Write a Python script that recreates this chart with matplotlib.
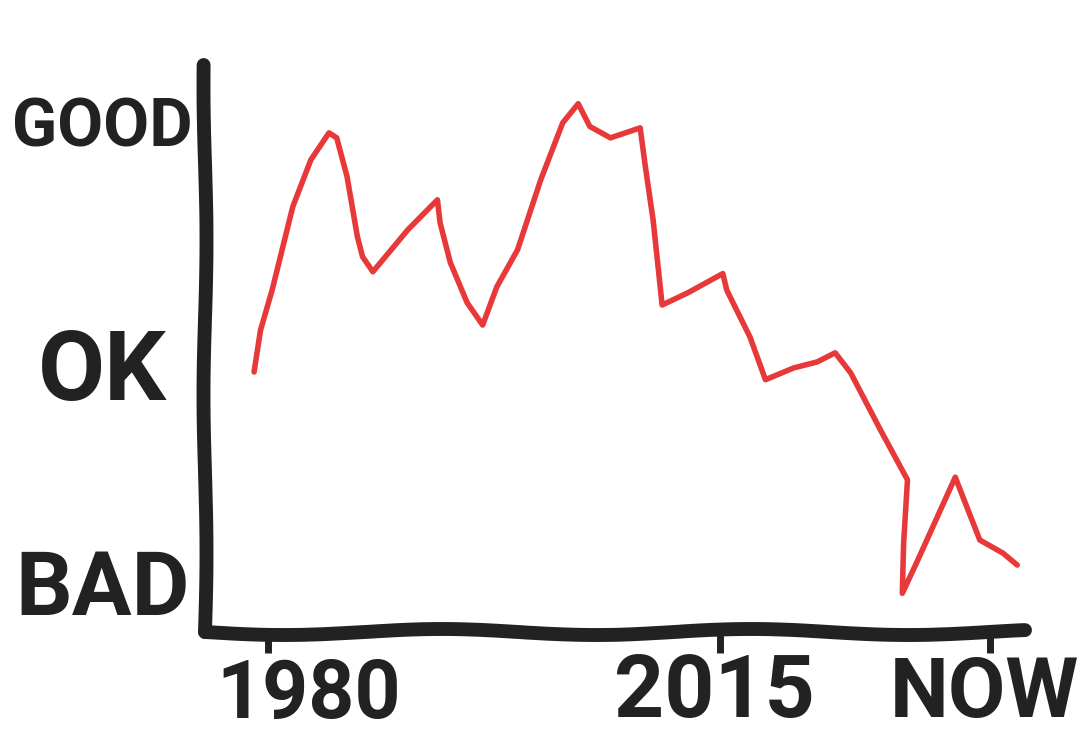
import matplotlib
matplotlib.use("Agg")
import matplotlib.pyplot as plt
import matplotlib.transforms as mtransforms

# ---- data ----
years = [1978.9, 1979.4, 1980.3, 1981.9, 1983.3, 1984.7, 1985.3, 1986.1, 1986.9,
         1987.3, 1988.1, 1990.8, 1993.1, 1993.3, 1994.1, 1995.4, 1996.6, 1997.7,
         1999.3, 2001.1, 2002.8, 2004.0, 2004.9, 2006.5, 2008.8, 2009.2, 2009.8,
         2010.5, 2012.5, 2015.2, 2015.5, 2017.3, 2018.5, 2020.7, 2022.5, 2023.9,
         2025.1, 2027.4, 2029.5, 2029.2, 2029.1, 2030.3, 2033.2, 2033.8, 2035.1,
         2036.9, 2038.0]
quality = [4.46, 5.38, 6.26, 8.09, 9.12, 9.71, 9.60, 8.75, 7.43,
           6.99, 6.66, 7.58, 8.24, 7.74, 6.86, 5.98, 5.49, 6.33,
           7.14, 8.68, 9.93, 10.35, 9.85, 9.60, 9.82, 8.97, 7.80,
           5.93, 6.20, 6.62, 6.26, 5.23, 4.29, 4.55, 4.68, 4.88,
           4.44, 3.19, 2.09, 0.70, -0.40, 0.33, 2.15, 1.71, 0.77,
           0.48, 0.22]

x_tick_pos = [1980, 2015, 2035.9]
x_tick_labels = ["1980", "2015", "NOW"]
y_tick_pos = [0.0, 4.77, 10.07]
y_tick_labels = ["BAD", "OK", "GOOD"]

# ---- style ----
INK = "#222222"
RED = "#e8393a"
FONT = ["Roboto", "DejaVu Sans"]
x_label_offsets_pt = [(29, -62), (-4, -61), (-4, -61)]
x_label_sizes = [58, 63, 60]
y_label_offsets_pt = [(-74, -29), (-74, -30), (-74, -21.5)]
y_label_sizes = [64, 70, 48]

fig = plt.figure(figsize=(10.8, 7.42), dpi=100)
fig.patch.set_facecolor("white")
ax = fig.add_axes([205 / 1080, 1 - 632 / 742, 820 / 1080, (632 - 65) / 742])
ax.set_facecolor("white")

ax.plot(years, quality, color=RED, lw=4.0, solid_capstyle="round",
        solid_joinstyle="round", zorder=3)

ax.set_xlim(1975.1, 2038.6)
ax.set_ylim(-1.25, 11.2)

for side in ("top", "right"):
    ax.spines[side].set_visible(False)
for side, sc in (("left", 1.5), ("bottom", 3)):
    sp = ax.spines[side]
    sp.set_linewidth(10)
    sp.set_color(INK)
    sp.set_capstyle("round")
    sp.set_sketch_params(scale=sc, length=320, randomness=1.3)

# x ticks (labels drawn separately so they can sit like the handwriting)
ax.set_xticks(x_tick_pos)
ax.set_xticklabels([""] * len(x_tick_pos))
ax.tick_params(axis="x", direction="out", length=15, width=5, color=INK)

blend = mtransforms.blended_transform_factory(ax.transData, ax.transAxes)
for pos, lab, (dx, dy), fs in zip(x_tick_pos, x_tick_labels,
                                  x_label_offsets_pt, x_label_sizes):
    ax.annotate(lab, xy=(pos, 0), xycoords=blend, xytext=(dx, dy),
                textcoords="offset points", ha="center", va="baseline",
                fontsize=fs, fontweight="bold", color=INK, family=FONT)

# y ticks: labels only, centred left of the axis
ax.set_yticks(y_tick_pos)
ax.set_yticklabels([])
ax.tick_params(axis="y", length=0)
blend_y = mtransforms.blended_transform_factory(ax.transAxes, ax.transData)
for pos, lab, (dx, dy), fs in zip(y_tick_pos, y_tick_labels,
                                  y_label_offsets_pt, y_label_sizes):
    ax.annotate(lab, xy=(0, pos), xycoords=blend_y, xytext=(dx, dy),
                textcoords="offset points", ha="center", va="baseline",
                fontsize=fs, fontweight="bold", color=INK, family=FONT)

fig.savefig("out.png", dpi=100, facecolor="white")
